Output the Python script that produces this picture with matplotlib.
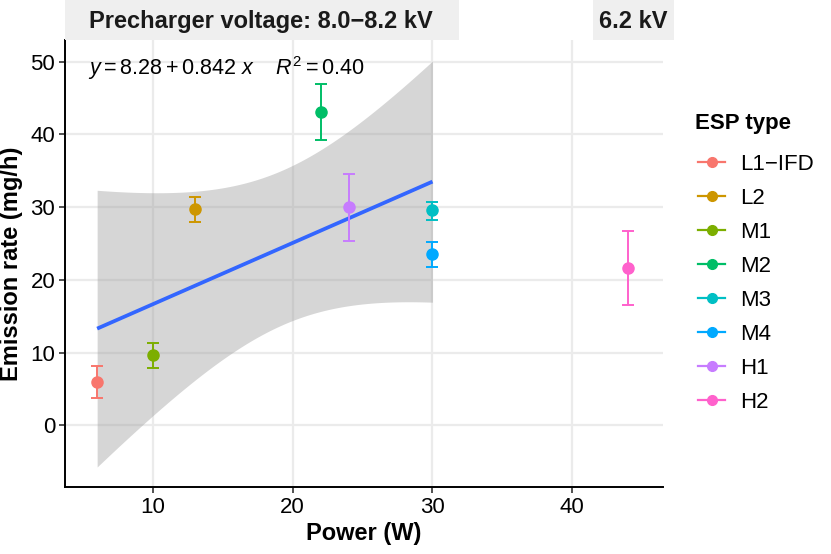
import numpy as np
import matplotlib
matplotlib.use("Agg")
import matplotlib.pyplot as plt
from matplotlib.patches import Rectangle
from matplotlib.lines import Line2D

plt.rcParams['font.family'] = ['Liberation Sans', 'DejaVu Sans']
plt.rcParams['mathtext.fontset'] = 'custom'
plt.rcParams['mathtext.rm'] = 'Liberation Sans'
plt.rcParams['mathtext.it'] = 'Liberation Sans:italic'

# mean emission per ESP type, with error bar limits
esp_types = ['L1\u2212IFD', 'L2', 'M1', 'M2', 'M3', 'M4', 'H1', 'H2']
power = [6, 13, 10, 22, 30, 30, 24, 44]
emission = [5.9, 29.7, 9.6, 43.1, 29.6, 23.5, 30.0, 21.6]
err_low = [3.8, 27.9, 7.9, 39.3, 28.3, 21.7, 25.4, 16.5]
err_high = [8.2, 31.4, 11.3, 46.9, 30.7, 25.2, 34.6, 26.7]
colors = ['#F8766D', '#CD9600', '#7CAE00', '#00BE67', '#00BFC4', '#00A9FF', '#C77CFF', '#FF61CC']
# which types belong to the 8.0-8.2 kV group (used for the fit)
in_fit = [True, True, True, True, True, True, True, False]

W, H = 831, 554
fig = plt.figure(figsize=(W / 100, H / 100), dpi=100)

def fx(px):
    return px / W

def fy(py):
    return 1 - py / H

ax = fig.add_axes([fx(65), fy(487), fx(663) - fx(65), fy(40) - fy(487)])

# linear fit + 95% band over the fitted group
xf = np.array([p for p, k in zip(power, in_fit) if k], dtype=float)
yf = np.array([e for e, k in zip(emission, in_fit) if k], dtype=float)
slope, icpt = np.polyfit(xf, yf, 1)
n = len(xf)
resid = yf - (icpt + slope * xf)
s = np.sqrt(np.sum(resid ** 2) / (n - 2))
sxx = np.sum((xf - xf.mean()) ** 2)
t975 = 2.5706  # t quantile, df = 5
xs = np.linspace(xf.min(), xf.max(), 100)
ys = icpt + slope * xs
hw = t975 * s * np.sqrt(1 / n + (xs - xf.mean()) ** 2 / sxx)

ax.fill_between(xs, ys - hw, ys + hw, color='#999999', alpha=0.4, lw=0, zorder=2)
ax.plot(xs, ys, color='#3366FF', lw=2.7, zorder=3, solid_capstyle='butt')

for i in range(len(esp_types)):
    ax.errorbar(power[i], emission[i],
                yerr=[[emission[i] - err_low[i]], [err_high[i] - emission[i]]],
                fmt='o', color=colors[i], ms=8, elinewidth=1.4, capsize=4,
                capthick=1.4, zorder=4)

ax.set_xlim(3.7, 46.5)
ax.set_ylim(-8.5, 53.0)
ax.set_xticks([10, 20, 30, 40])
ax.set_yticks([0, 10, 20, 30, 40, 50])
ax.grid(True, color='#EBEBEB', lw=1.6, zorder=0)
ax.set_axisbelow(True)
for side in ['top', 'right']:
    ax.spines[side].set_visible(False)
for side in ['left', 'bottom']:
    ax.spines[side].set_linewidth(1.4)
    ax.spines[side].set_color('black')
ax.tick_params(axis='both', length=4, width=1.2, color='#333333', labelsize=16,
               labelcolor='black', pad=3)

ax.set_xlabel('Power (W)', fontsize=17, fontweight='bold', labelpad=3)
ax.set_ylabel('Emission rate (mg/h)', fontsize=17, fontweight='bold', labelpad=5)

# equation label
fig.text(fx(88), fy(75), r'$y = 8.28 + 0.842\ x\ \ \ \ R^2 = 0.40$', fontsize=15.5,
         ha='left', va='baseline')

# voltage headers
fig.add_artist(Rectangle((fx(65), fy(40)), fx(459) - fx(65), fy(0) - fy(40),
                         transform=fig.transFigure, color='#EFEFEF', lw=0))
fig.text(fx(261), fy(28.3), 'Precharger voltage: 8.0\u22128.2 kV', fontsize=17,
         fontweight='bold', ha='center', va='baseline', color='#1A1A1A')
fig.add_artist(Rectangle((fx(593), fy(40)), fx(674) - fx(593), fy(0) - fy(40),
                         transform=fig.transFigure, color='#EFEFEF', lw=0))
fig.text(fx(633.5), fy(28.3), '6.2 kV', fontsize=17,
         fontweight='bold', ha='center', va='baseline', color='#1A1A1A')

# legend
fig.text(fx(695), fy(129.3), 'ESP type', fontsize=16, fontweight='bold',
         ha='left', va='baseline')
for i, lab in enumerate(esp_types):
    yc = 161.7 + i * 34.1
    fig.add_artist(Line2D([fx(698), fx(725)], [fy(yc), fy(yc)], color=colors[i],
                          lw=1.6, transform=fig.transFigure))
    fig.add_artist(Line2D([fx(711.5)], [fy(yc)], marker='o', ms=7, color=colors[i],
                          transform=fig.transFigure))
    fig.text(fx(740), fy(yc), lab, fontsize=16, ha='left', va='center_baseline')

fig.savefig('out.png', dpi=100)
